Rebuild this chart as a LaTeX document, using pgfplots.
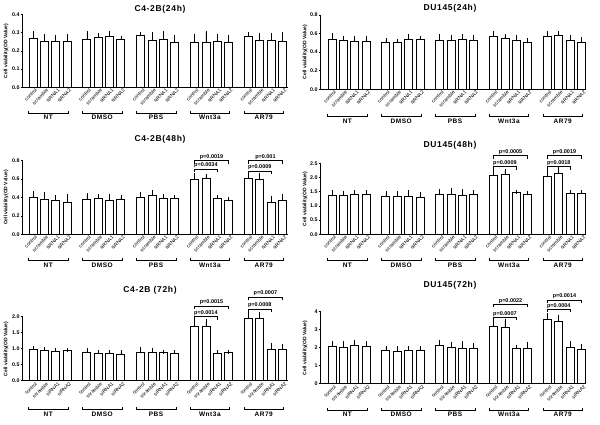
\documentclass[border=0pt]{standalone}
\usepackage{pgfplots}
\pgfplotsset{compat=1.18}
\usepackage{pgfplotstable}
\usepackage{fontspec}
\setmainfont{Liberation Sans}
\newfontfamily\spaced{Liberation Sans}[LetterSpace=8]

\pgfplotstableread{
x y e
0 0.268 0.028
1 0.250 0.033
2 0.252 0.022
3 0.252 0.031
4.75 0.263 0.033
5.75 0.272 0.013
6.75 0.278 0.022
7.75 0.263 0.005
9.5 0.286 0.006
10.5 0.255 0.037
11.5 0.263 0.037
12.5 0.245 0.029
14.25 0.247 0.036
15.25 0.245 0.055
16.25 0.252 0.031
17.25 0.247 0.031
19 0.281 0.011
20 0.258 0.031
21 0.258 0.027
22 0.252 0.038
}\tA
\pgfplotstableread{
x y e
0 0.542 0.043
1 0.524 0.032
2 0.520 0.036
3 0.520 0.032
4.75 0.509 0.022
5.75 0.509 0.015
6.75 0.535 0.039
7.75 0.535 0.021
9.5 0.531 0.043
10.5 0.524 0.036
11.5 0.538 0.032
12.5 0.527 0.033
14.25 0.567 0.043
15.25 0.549 0.025
16.25 0.531 0.029
17.25 0.509 0.022
19 0.567 0.036
20 0.581 0.022
21 0.531 0.029
22 0.506 0.036
}\tB
\pgfplotstableread{
x y e
0 0.398 0.047
1 0.380 0.054
2 0.369 0.033
3 0.351 0.065
4.75 0.384 0.040
5.75 0.387 0.033
6.75 0.369 0.047
7.75 0.376 0.033
9.5 0.402 0.032
10.5 0.424 0.036
11.5 0.395 0.021
12.5 0.391 0.018
14.25 0.597 0.051
15.25 0.608 0.029
16.25 0.387 0.015
17.25 0.369 0.011
19 0.608 0.025
20 0.597 0.044
21 0.351 0.047
22 0.373 0.043
}\tC
\pgfplotstableread{
x y e
0 1.385 0.094
1 1.385 0.082
2 1.420 0.059
3 1.397 0.082
4.75 1.350 0.094
5.75 1.326 0.118
6.75 1.338 0.141
7.75 1.315 0.093
9.5 1.420 0.094
10.5 1.420 0.129
11.5 1.385 0.141
12.5 1.397 0.082
14.25 2.077 0.118
15.25 2.100 0.140
16.25 1.467 0.033
17.25 1.397 0.047
19 2.054 0.141
20 2.136 0.164
21 1.455 0.045
22 1.432 0.047
}\tD
\pgfplotstableread{
x y e
0 0.979 0.051
1 0.938 0.042
2 0.927 0.031
3 0.938 0.021
4.75 0.885 0.073
5.75 0.854 0.052
6.75 0.854 0.052
7.75 0.833 0.052
9.5 0.896 0.083
10.5 0.885 0.063
11.5 0.875 0.031
12.5 0.854 0.052
14.25 1.698 0.167
15.25 1.708 0.146
16.25 0.865 0.031
17.25 0.875 0.031
19 1.948 0.122
20 1.938 0.132
21 0.990 0.114
22 0.969 0.125
}\tE
\pgfplotstableread{
x y e
0 2.056 0.184
1 2.037 0.223
2 2.110 0.200
3 2.056 0.204
4.75 1.833 0.167
5.75 1.815 0.165
6.75 1.870 0.090
7.75 1.850 0.130
9.5 2.110 0.200
10.5 2.020 0.200
11.5 1.980 0.260
12.5 1.944 0.206
14.25 3.185 0.245
15.25 3.130 0.370
16.25 1.980 0.076
17.25 1.980 0.240
19 3.590 0.225
20 3.440 0.280
21 2.000 0.260
22 1.926 0.164
}\tF

\pgfplotsset{
  panel/.style={
    scale only axis, width=265.3pt, anchor=south west,
    axis lines=left, axis line style={-, line width=0.8pt},
    clip=false, ymin=0,
    xtick={0,1,2,3,4.75,5.75,6.75,7.75,9.5,10.5,11.5,12.5,14.25,15.25,16.25,17.25,19,20,21,22},
    xticklabels={control,scramble,siRNA1,siRNA2,control,scramble,siRNA1,siRNA2,control,scramble,siRNA1,siRNA2,control,scramble,siRNA1,siRNA2,control,scramble,siRNA1,siRNA2},
    x tick style={draw=none},
    xticklabel style={rotate=45, anchor=north east, font=\fontsize{5}{5}\selectfont, inner sep=0.4pt, xshift=2.5pt},
    y tick style={black, line width=0.6pt}, tick align=outside, major tick length=2pt,
    yticklabel style={font=\fontsize{5.3}{5.5}\selectfont\bfseries, inner sep=1pt,
      /pgf/number format/.cd, fixed, fixed zerofill, precision=1, assume math mode=true},
  },
  leftp/.style={panel, xmin=-0.91, xmax=22.49},
  rightp/.style={panel, xmin=-1.0, xmax=22.4},
  barsty/.style={ybar, bar width=8pt, fill=white, draw=black, line width=0.8pt,
    error bars/y dir=plus, error bars/y explicit,
    error bars/error bar style={line width=0.7pt, black},
    error bars/error mark options={black, mark size=2pt, line width=0.7pt}},
}

\newcommand{\grp}[5]{%
  \draw[line width=0.7pt] ([yshift=-#5pt+2.5pt]axis cs:#1,0) -- ([yshift=-#5pt]axis cs:#1,0) -- ([yshift=-#5pt]axis cs:#2,0) -- ([yshift=-#5pt+2.5pt]axis cs:#2,0);
  \node[anchor=north, inner sep=0pt, font=\spaced\fontsize{6.5}{6.5}\selectfont\bfseries] at ([yshift=-#5pt-2.2pt]axis cs:#3,0) {#4};}
\newcommand{\allgrp}[1]{%
  \grp{-0.4}{3.1}{1.35}{NT}{#1}%
  \grp{4.35}{7.85}{6.1}{DMSO}{#1}%
  \grp{9.1}{12.6}{10.85}{PBS}{#1}%
  \grp{13.85}{17.35}{15.6}{Wnt3a}{#1}%
  \grp{18.6}{22.1}{20.35}{AR79}{#1}}
\newcommand{\pbr}[5]{%
  \draw[line width=0.6pt] ([yshift=-3pt]axis cs:#1,#4) -- (axis cs:#1,#4) -- (axis cs:#2,#4) -- ([yshift=-3pt]axis cs:#2,#4);
  \node[anchor=south, inner sep=0.8pt, font=\fontsize{5.5}{6}\selectfont\bfseries] at (axis cs:#3,#4) {#5};}

\tikzset{ttl/.style={font=\spaced\fontsize{8.5}{9}\selectfont\bfseries, inner sep=0pt},
  ylab/.style={rotate=90, font=\fontsize{5}{5}\selectfont\bfseries, inner sep=0pt}}

\begin{document}
\begin{tikzpicture}
% Panel A
\begin{axis}[leftp, at={(22.7pt,336.7pt)}, height=73pt, ymax=0.4, ytick={0,0.1,0.2,0.3,0.4}]
\addplot[barsty] table[x=x, y=y, y error=e] {\tA};
\allgrp{25.7}
\end{axis}
% Panel B
\begin{axis}[rightp, at={(320.7pt,334.7pt)}, height=74.3pt, ymax=0.8, ytick={0,0.2,0.4,0.6,0.8}]
\addplot[barsty] table[x=x, y=y, y error=e] {\tB};
\allgrp{27}
\end{axis}
% Panel C
\begin{axis}[leftp, at={(22.7pt,189.7pt)}, height=73.6pt, ymax=0.8, ytick={0,0.2,0.4,0.6,0.8}]
\addplot[barsty] table[x=x, y=y, y error=e] {\tC};
\allgrp{26.4}
\pbr{14.25}{16.25}{15.25}{0.71}{p=0.0034}
\pbr{14.25}{17.25}{15.75}{0.80}{p=0.0019}
\pbr{19}{21}{20}{0.69}{p=0.0009}
\pbr{19}{22}{20.5}{0.80}{p=0.001}
\end{axis}
% Panel D
\begin{axis}[rightp, at={(320.7pt,189.7pt)}, height=71pt, ymax=2.5, ytick={0,0.5,1,1.5,2,2.5}]
\addplot[barsty] table[x=x, y=y, y error=e] {\tD};
\allgrp{26.4}
\pbr{14.25}{16.25}{15.25}{2.38}{p=0.0009}
\pbr{14.25}{17.25}{15.75}{2.77}{p=0.0005}
\pbr{19}{21}{20}{2.38}{p=0.0018}
\pbr{19}{22}{20.5}{2.77}{p=0.0019}
\end{axis}
% Panel E
\begin{axis}[leftp, at={(22.7pt,43.3pt)}, height=64pt, ymax=2.0, ytick={0,0.5,1,1.5,2}]
\addplot[barsty] table[x=x, y=y, y error=e] {\tE};
\allgrp{29}
\pbr{14.25}{16.25}{15.25}{2.0}{p=0.0014}
\pbr{14.25}{17.25}{15.75}{2.34}{p=0.0015}
\pbr{19}{21}{20}{2.24}{p=0.0008}
\pbr{19}{22}{20.5}{2.62}{p=0.0007}
\end{axis}
% Panel F
\begin{axis}[rightp, at={(320.7pt,40.3pt)}, height=72pt, ymax=4, ytick={0,1,2,3,4},
  yticklabel style={/pgf/number format/precision=0}]
\addplot[barsty] table[x=x, y=y, y error=e] {\tF};
\allgrp{26.3}
\pbr{14.25}{16.25}{15.25}{3.69}{p=0.0007}
\pbr{14.25}{17.25}{15.75}{4.41}{p=0.0022}
\pbr{19}{21}{20}{4.13}{p=0.0004}
\pbr{19}{22}{20.5}{4.65}{p=0.0014}
\end{axis}
% titles
\node[ttl] at (160pt,415pt) {C4-2B(24h)};
\node[ttl] at (450pt,415.7pt) {DU145(24h)};
\node[ttl] at (160pt,285pt) {C4-2B(48h)};
\node[ttl] at (450pt,279pt) {DU145(48h)};
\node[ttl] at (150pt,134pt) {C4-2B (72h)};
\node[ttl] at (450pt,138.3pt) {DU145(72h)};
% y labels
\node[ylab] at (6pt,373pt) {Cell viability(OD Value)};
\node[ylab] at (305pt,372pt) {Cell viability(OD Value)};
\node[ylab] at (6pt,226.5pt) {Cell viability(OD Value)};
\node[ylab] at (305pt,225pt) {Cell viability(OD Value)};
\node[ylab] at (6pt,75pt) {Cell viability(OD Value)};
\node[ylab] at (305pt,76pt) {Cell viability(OD Value)};
\pgfresetboundingbox
\path[use as bounding box] (0,0) rectangle (600pt,424pt);
\end{tikzpicture}
\end{document}
